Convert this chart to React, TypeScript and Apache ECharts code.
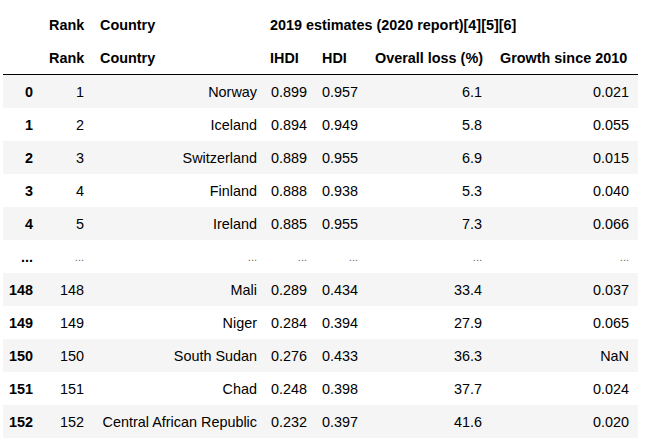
import React, { useEffect, useRef } from "react";
import * as echarts from "echarts";

// ---- data ----
const indexLabels = ["0", "1", "2", "3", "4", "148", "149", "150", "151", "152"];
const ranks = [1, 2, 3, 4, 5, 148, 149, 150, 151, 152];
const countries = ["Norway", "Iceland", "Switzerland", "Finland", "Ireland", "Mali", "Niger", "South Sudan", "Chad", "Central African Republic"];
const ihdi = [0.899, 0.894, 0.889, 0.888, 0.885, 0.289, 0.284, 0.276, 0.248, 0.232];
const hdi = [0.957, 0.949, 0.955, 0.938, 0.955, 0.434, 0.394, 0.433, 0.398, 0.397];
const overallLoss = [6.1, 5.8, 6.9, 5.3, 7.3, 33.4, 27.9, 36.3, 37.7, 41.6];
const growth: (number | null)[] = [0.021, 0.055, 0.015, 0.04, 0.066, 0.037, 0.065, null, 0.024, 0.02];
const ellipsisAfter = 5;
const headerRow1 = ["", "Rank", "Country", "2019 estimates (2020 report)[4][5][6]", "", "", ""];
const headerRow2 = ["", "Rank", "Country", "IHDI", "HDI", "Overall loss (%)", "Growth since 2010"];

// ---- layout ----
const FONT = "'Liberation Sans', Arial, Helvetica, sans-serif";
const FS = 14.4;
const colLeft = [10, 49, 100, 270, 322, 375, 500];
const colRight = [33, 84, 257, 307, 358, 482, 629];
const tableLeft = 3;
const tableRight = 638;
const head1Y = 24.5;
const head2Y = 57.5;
const lineY = 74.5;
const bodyTop = 75;
const rowH = 33;

function fmt(v: number | null, d: number) {
  return v === null || Number.isNaN(v) ? "NaN" : v.toFixed(d);
}

export default function App() {
  const ref = useRef<HTMLDivElement>(null);
  useEffect(() => {
    if (!ref.current) return;
    const chart = echarts.init(ref.current, undefined, { renderer: "svg" });
    const elements: any[] = [];

    // build display rows
    const rows: (string[] | null)[] = [];
    for (let i = 0; i < ranks.length; i++) {
      if (i === ellipsisAfter) rows.push(null);
      rows.push([
        indexLabels[i],
        String(ranks[i]),
        countries[i],
        fmt(ihdi[i], 3),
        fmt(hdi[i], 3),
        fmt(overallLoss[i], 1),
        fmt(growth[i], 3),
      ]);
    }

    // stripes
    rows.forEach((_, r) => {
      if (r % 2 === 0) {
        elements.push({
          type: "rect",
          shape: { x: tableLeft, y: bodyTop + r * rowH, width: tableRight - tableLeft, height: rowH },
          style: { fill: "#f5f5f5" },
          silent: true,
        });
      }
    });

    // header line
    elements.push({
      type: "line",
      shape: { x1: tableLeft, y1: lineY, x2: tableRight, y2: lineY },
      style: { stroke: "#000", lineWidth: 1 },
      silent: true,
    });

    // headers
    [headerRow1, headerRow2].forEach((hr, k) => {
      hr.forEach((t, c) => {
        if (!t) return;
        elements.push({
          type: "text",
          x: colLeft[c],
          y: k === 0 ? head1Y : head2Y,
          style: {
            text: t,
            font: `bold ${FS}px ${FONT}`,
            fill: "#000",
            align: "left",
            verticalAlign: "middle",
          },
          silent: true,
        });
      });
    });

    // body
    rows.forEach((row, r) => {
      const cy = bodyTop + r * rowH + rowH / 2;
      for (let c = 0; c < 7; c++) {
        if (row === null) {
          elements.push({
            type: "text",
            x: colRight[c],
            y: cy,
            style: {
              text: "...",
              font: c === 0 ? `bold ${FS}px ${FONT}` : `${11}px ${FONT}`,
              fill: c === 0 ? "#000" : "#666",
              align: "right",
              verticalAlign: "middle",
            },
            silent: true,
          });
        } else {
          elements.push({
            type: "text",
            x: colRight[c],
            y: cy,
            style: {
              text: row[c],
              font: c === 0 ? `bold ${FS}px ${FONT}` : `${FS}px ${FONT}`,
              fill: "#000",
              align: "right",
              verticalAlign: "middle",
            },
            silent: true,
          });
        }
      }
    });

    chart.setOption({
      animation: false,
      backgroundColor: "#ffffff",
      graphic: { elements },
    });
    return () => chart.dispose();
  }, []);

  return (
    <div
      ref={ref}
      style={{ position: "fixed", left: 0, top: 0, width: 651, height: 448 }}
    />
  );
}
